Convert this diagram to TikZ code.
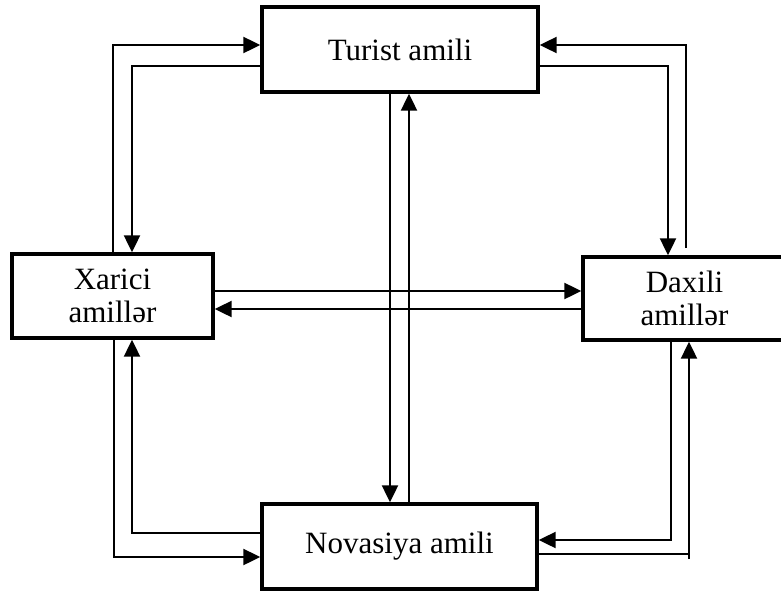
\documentclass[tikz,border=0pt]{standalone}
\usepackage{fontspec}
\setmainfont{Liberation Serif}
\usetikzlibrary{arrows.meta}

\begin{document}
\begin{tikzpicture}[x=1pt,y=-1pt,
  box/.style={draw, line width=3.4pt, inner sep=0pt, align=center,
    font=\fontsize{31}{33}\selectfont},
  link/.style={line width=2.2pt},
  >={Triangle[length=17pt,width=16pt]}]
             \useasboundingbox (0,0) rectangle (781,592);

             \node[box, minimum width=276pt, minimum height=85pt] (tur) at (400, 49.5) {Turist amili};
             \node[box, minimum width=201pt, minimum height=84pt] (xar) at (112.5, 296) {Xarici\\amillər};
             \node[box, minimum width=203pt, minimum height=83pt] (dax) at (684.5, 298.5) {Daxili\\amillər};
             \node[box, minimum width=275pt, minimum height=85pt] (nov) at (399.5, 546.5) {Novasiya amili};

             % bends
             \coordinate (tlo) at (113, 45);
             \coordinate (tli) at (132, 66);
             \coordinate (tro) at (686, 45);
             \coordinate (trb) at (686, 248);
             \coordinate (tri) at (668, 66);
             \coordinate (blo) at (114, 557);
             \coordinate (bli) at (132, 533);
             \coordinate (bri) at (671, 540);
             \coordinate (bro) at (689, 554);
             \coordinate (brb) at (689, 559);
             \coordinate (mid1) at (0, 291);
             \coordinate (mid2) at (0, 309);
             \coordinate (cdn) at (390, 0);
             \coordinate (cup) at (409, 0);

             \draw[link,->] (xar.north -| tlo) |- (tur.west |- tlo);
             \draw[link,->] (tur.west |- tli) -| (xar.north -| tli);
             \draw[link,->] (trb) |- (tur.east |- tro);
             \draw[link,->] (tur.east |- tri) -| (dax.north -| tri);

             \draw[link,->] (xar.east |- mid1) -- (dax.west |- mid1);
             \draw[link,->] (dax.west |- mid2) -- (xar.east |- mid2);
             \draw[link,->] (tur.south -| cdn) -- (nov.north -| cdn);
             \draw[link,->] (nov.north -| cup) -- (tur.south -| cup);

             \draw[link,->] (xar.south -| blo) |- (nov.west |- blo);
             \draw[link,->] (nov.west |- bli) -| (xar.south -| bli);
             \draw[link,->] (dax.south -| bri) |- (nov.east |- bri);
             \draw[link] (nov.east |- bro) -| (brb);
             \draw[link,->] (brb) -- (dax.south -| brb);
\end{tikzpicture}
\end{document}
